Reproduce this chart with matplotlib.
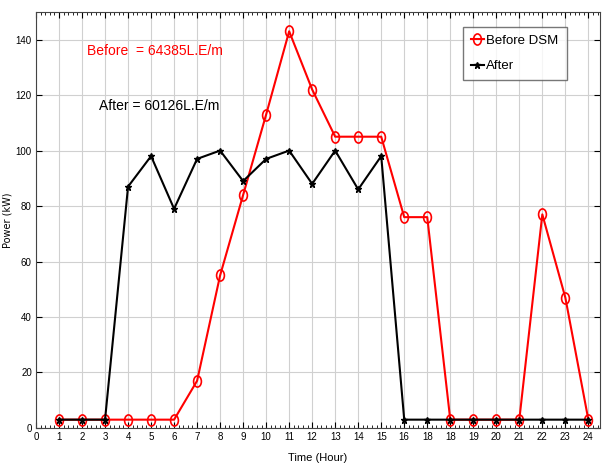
#
# imports
import matplotlib
matplotlib.use("Agg")
import matplotlib.pyplot as plt
from matplotlib.path import Path
from matplotlib.transforms import Affine2D
import numpy as np
#
# Hourly power profile before / after DSM
#################################################################
hours = np.arange(1, 25)
before_dsm = [3, 3, 3, 3, 3, 3, 17, 55, 84, 113, 143, 122,
              105, 105, 105, 76, 76, 3, 3, 3, 3, 77, 47, 3]
after_dsm = [3, 3, 3, 87, 98, 79, 97, 100, 89, 97, 100, 88,
             100, 86, 98, 3, 3, 3, 3, 3, 3, 3, 3, 3]
xtick_labels = ['0', '1', '2', '3', '4', '5', '6', '7', '8', '9', '10', '11', '12',
                '13', '14', '15', '16', '18', '18', '19', '20', '21', '22', '23', '24']
before_txt = 'Before  = 64385L.E/m'
after_txt = 'After = 60126L.E/m'
#
narrow = ['Liberation Sans', 'DejaVu Sans']
# squeezed circle marker (reference looks horizontally compressed)
ellipse = Affine2D().scale(0.7, 1.0).transform_path(Path.unit_circle())
#
fig = plt.figure(figsize=(6.05, 4.75), dpi=100)
ax = fig.add_axes([0.0595, 0.099, 0.932, 0.876])
#
ax.plot(hours, before_dsm, color='red', lw=1.5, marker=ellipse, ms=8,
        mfc='none', mew=1.2, label='Before DSM', zorder=3)
ax.plot(hours, after_dsm, color='black', lw=1.5, marker='*', ms=5,
        mew=1.0, label='After', zorder=4)
#
ax.set_xlim(0, 24.5)
ax.set_ylim(0, 150)
ax.set_xticks(np.arange(0, 25))
ax.set_xticklabels(xtick_labels, family=narrow, fontsize=7)
ax.set_xticks(np.arange(0, 24.5, 0.2), minor=True)
ax.set_yticks(np.arange(0, 141, 20))
ax.set_yticklabels([str(v) for v in range(0, 141, 20)], family=narrow, fontsize=7)
ax.tick_params(which='both', direction='in', top=True, right=True, pad=3)
ax.tick_params(which='major', length=4)
ax.tick_params(which='minor', length=2)
ax.grid(True, which='major', color='#d0d0d0', lw=0.8)
ax.set_axisbelow(True)
for s in ax.spines.values():
    s.set_color('#444444')
#
ax.set_xlabel('Time (Hour)', family=narrow, fontsize=8, labelpad=8)
ax.set_ylabel('Power (kW)', family='DejaVu Sans', fontsize=7, labelpad=2)
#
ax.text(2.2, 136, before_txt, color='red', family=narrow, fontsize=10, va='center')
ax.text(2.75, 116, after_txt, color='black', family=narrow, fontsize=10, va='center')
#
leg = ax.legend(loc='upper right', bbox_to_anchor=(0.941, 0.964), borderaxespad=0,
                prop={'family': narrow, 'size': 9.5}, fancybox=False,
                edgecolor='#555555', handlelength=1.0, handletextpad=0.2,
                borderpad=0.6, labelspacing=1.0)
leg.get_frame().set_linewidth(1.0)
#
fig.savefig('out.png', dpi=100)
